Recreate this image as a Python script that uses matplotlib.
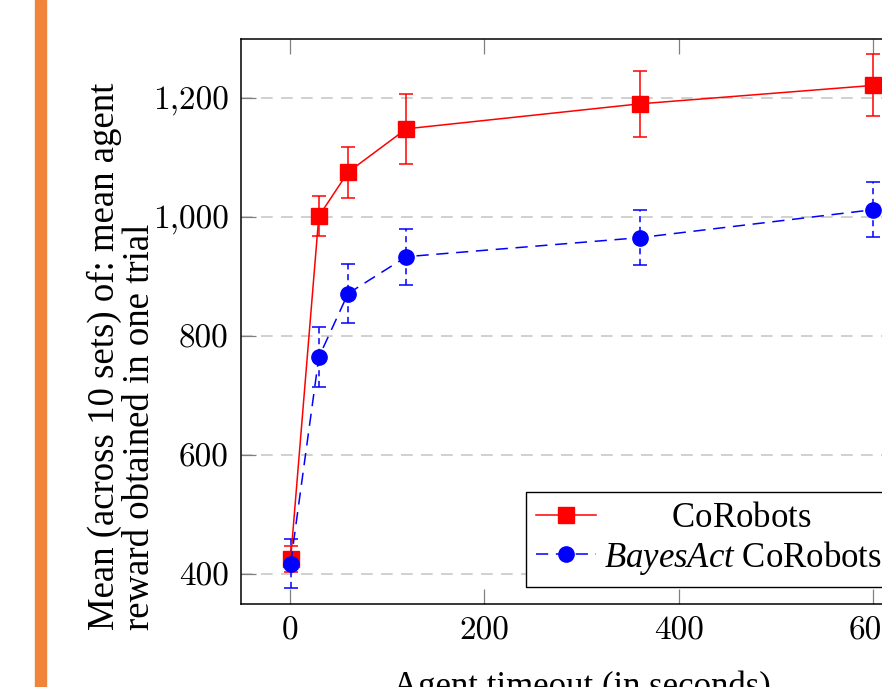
import numpy as np
import matplotlib
matplotlib.use('Agg')
import matplotlib.pyplot as plt
from matplotlib.patches import Rectangle
from matplotlib.ticker import FuncFormatter

# Data
timeouts = [1, 30, 60, 120, 360, 600]
corobots_mean = [425, 1002, 1076, 1149, 1191, 1222]
corobots_err = [22, 34, 43, 59, 55, 52]
bayesact_mean = [418, 765, 872, 934, 966, 1013]
bayesact_err = [41, 50, 50, 47, 46, 46]

x_ticks = [0, 200, 400, 600]
y_ticks = [400, 600, 800, 1000, 1200]

RED = '#ff0000'
BLUE = '#0000ff'
GRID_COLOR = '#c8c8c8'
ORANGE = '#f0843a'

# labels/legend in a Times-like face, tick numbers in Computer Modern
plt.rcParams['font.family'] = ['Liberation Serif', 'DejaVu Serif']
plt.rcParams['mathtext.fontset'] = 'custom'
plt.rcParams['mathtext.rm'] = 'Liberation Serif'
plt.rcParams['mathtext.it'] = 'Liberation Serif:italic'

fig = plt.figure(figsize=(8.82, 6.87), dpi=100)
ax = fig.add_axes([241 / 882, 83 / 687, 681 / 882, 565 / 687])

# CoRobots: solid red with squares
red = ax.errorbar(timeouts, corobots_mean, yerr=corobots_err, color=RED,
                  marker='s', markersize=11, linewidth=1.1, elinewidth=1.1,
                  capsize=5, capthick=1.1, zorder=3)

# BayesAct CoRobots: dashed blue with circles
blue = ax.errorbar(timeouts, bayesact_mean, yerr=bayesact_err, color=BLUE,
                   marker='o', markersize=11, linewidth=1.1,
                   linestyle=(0, (8, 5)), elinewidth=1.1,
                   capsize=5, capthick=1.1, zorder=3)
for b in blue[2]:
    b.set_linestyle((0, (4, 3)))

ax.set_xlim(-50, 650)
ax.set_ylim(350, 1300)
ax.set_xticks(x_ticks)
ax.set_yticks(y_ticks)
ax.yaxis.set_major_formatter(FuncFormatter(lambda v, p: f'{int(v):,}'))

ax.yaxis.grid(True, linestyle=(0, (7, 5)), color=GRID_COLOR, linewidth=1.2)
ax.set_axisbelow(True)

ax.tick_params(direction='in', length=11, width=0.9, color='#808080',
               top=True, right=True, labelsize=24, labelfontfamily='cmr10')
ax.tick_params(axis='y', pad=9)
ax.tick_params(axis='x', pad=9)
for spine in ax.spines.values():
    spine.set_linewidth(1.1)
    spine.set_color('black')

ax.set_xlabel('Agent timeout (in seconds)', fontsize=25)
ax.xaxis.set_label_coords(0.5, -0.117)

fig.text(122 / 882, (687 - 630) / 687,
         'Mean (across 10 sets) of: mean agent\nreward obtained in one trial',
         rotation=90, ha='center', va='bottom', multialignment='left',
         fontsize=26.5, linespacing=1.0)

# legend shows only line + marker (no error bars)
leg = ax.legend([red[0], blue[0]],
                [r'$\hspace{2.7}$CoRobots', r'$\mathit{BayesAct}$ CoRobots'],
                loc='lower left', bbox_to_anchor=(0.4185, 0.030),
                borderaxespad=0, fontsize=25,
                fancybox=False, edgecolor='black', framealpha=1,
                handlelength=1.73, labelspacing=0.1, borderpad=0.3,
                handletextpad=0.23)
leg.get_frame().set_linewidth(1.0)

# orange side bar
fig.add_artist(Rectangle((35 / 882, 0), 11 / 882, 1, transform=fig.transFigure,
                         color=ORANGE, zorder=0))

fig.savefig('out.png', dpi=100)
